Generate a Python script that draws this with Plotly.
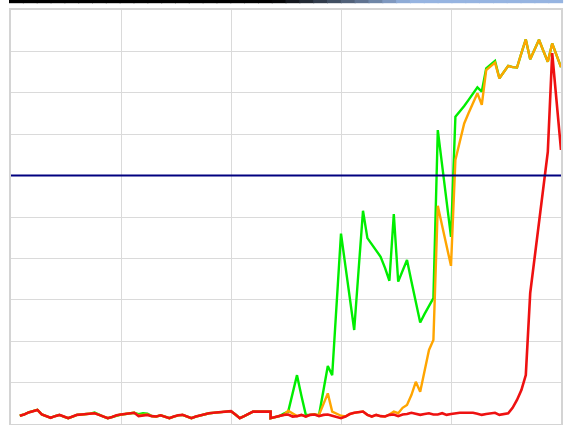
import plotly.graph_objects as go

# x positions (sample index); 59 repeated for the vertical step
idx = list(range(2, 60)) + [59] + list(range(60, 126))

red = [2.0, 2.3, 2.8, 3.1, 3.4, 2.3, 1.9, 1.5, 1.9, 2.2,
       1.8, 1.4, 1.8, 2.2, 2.3, 2.4, 2.5, 2.6, 2.2, 1.8,
       1.4, 1.7, 2.1, 2.3, 2.4, 2.6, 2.7, 1.9, 2.1, 2.2,
       1.9, 1.8, 2.1, 1.8, 1.4, 1.8, 2.1, 2.2, 1.8, 1.4,
       1.8, 2.1, 2.3, 2.6, 2.7, 2.8, 2.9, 3.0, 3.1, 2.3,
       1.4, 1.9, 2.5, 3.0, 3.0, 3.0, 3.0, 3.0, 1.4,
       1.7, 1.9, 2.2, 2.3, 1.8, 1.9, 2.2, 1.8, 2.2, 2.3,
       1.9, 2.2, 2.3, 2.0, 1.7, 1.4, 1.8, 2.4, 2.7, 2.9,
       3.0, 2.2, 1.8, 2.2, 1.9, 1.8, 2.2, 2.3, 1.9, 2.3,
       2.4, 2.7, 2.4, 2.2, 2.4, 2.6, 2.3, 2.3, 2.6, 2.2,
       2.4, 2.6, 2.7, 2.7, 2.7, 2.7, 2.5, 2.2, 2.4, 2.6,
       2.7, 2.2, 2.4, 2.6, 3.9, 5.8, 8.2, 11.8, 31.6, 40.1,
       48.6, 57.2, 65.7, 89.6, 78.0, 66.2]

green = [2.0, 2.3, 2.8, 3.1, 3.4, 2.3, 1.9, 1.5, 1.9, 2.2,
         1.8, 1.4, 1.8, 2.2, 2.3, 2.4, 2.5, 2.8, 2.2, 1.8,
         1.4, 1.7, 2.1, 2.3, 2.4, 2.6, 2.7, 2.4, 2.6, 2.5,
         1.9, 1.8, 2.1, 1.8, 1.4, 1.8, 2.1, 2.2, 1.8, 1.4,
         1.8, 2.1, 2.3, 2.6, 2.7, 2.8, 2.9, 3.0, 3.1, 2.3,
         1.4, 1.9, 2.5, 3.0, 3.0, 3.0, 3.0, 3.0, 1.4,
         1.7, 1.9, 2.5, 3.0, 7.4, 11.8, 6.8, 2.2, 2.2, 2.3,
         2.1, 8.1, 14.0, 11.8, 28.9, 46.0, 38.2, 30.5, 22.7, 37.2,
         51.5, 44.9, 43.5, 42.0, 40.4, 37.7, 34.6, 50.7, 34.4, 37.0,
         39.6, 34.5, 29.5, 24.5, 26.6, 28.5, 30.4, 71.0, 62.6, 54.1,
         45.2, 74.2, 75.4, 76.8, 78.3, 79.8, 81.3, 80.3, 85.9, 86.8,
         87.7, 83.5, 85.0, 86.5, 86.2, 86.1, 89.6, 92.9, 88.1, 90.4,
         92.8, 90.1, 87.5, 91.9, 89.1, 86.2]

orange = [2.0, 2.3, 2.8, 3.1, 3.4, 2.3, 1.9, 1.5, 1.9, 2.2,
          1.8, 1.4, 1.8, 2.2, 2.3, 2.4, 2.5, 2.6, 2.2, 1.8,
          1.4, 1.7, 2.1, 2.3, 2.4, 2.6, 2.7, 2.1, 2.2, 2.3,
          1.9, 1.8, 2.1, 1.8, 1.4, 1.8, 2.1, 2.2, 1.8, 1.4,
          1.8, 2.1, 2.3, 2.6, 2.7, 2.8, 2.9, 3.0, 3.1, 2.3,
          1.4, 1.9, 2.5, 3.0, 3.0, 3.0, 3.0, 3.0, 1.4,
          1.7, 1.9, 2.2, 3.2, 2.6, 1.9, 2.2, 1.8, 2.2, 2.3,
          2.2, 4.8, 7.4, 3.0, 2.4, 2.0, 1.8, 2.4, 2.7, 2.9,
          3.0, 2.2, 1.8, 2.2, 1.9, 1.8, 2.3, 3.0, 2.6, 3.9,
          4.6, 7.0, 10.2, 7.8, 12.6, 17.9, 20.3, 52.7, 47.8, 43.0,
          38.2, 63.8, 68.4, 72.6, 75.1, 77.5, 79.9, 77.1, 85.5, 86.4,
          87.3, 83.5, 85.0, 86.5, 86.2, 86.1, 89.6, 92.9, 88.1, 90.4,
          92.8, 90.1, 87.5, 91.9, 89.1, 86.2]

threshold = 60

fig = go.Figure()
fig.add_trace(go.Scatter(x=idx, y=green, mode="lines",
                         line=dict(color="#00ee00", width=2.4), hoverinfo="skip"))
fig.add_trace(go.Scatter(x=idx, y=orange, mode="lines",
                         line=dict(color="#ffa500", width=2.4), hoverinfo="skip"))
fig.add_trace(go.Scatter(x=idx, y=red, mode="lines",
                         line=dict(color="#ee1111", width=2.6), hoverinfo="skip"))
fig.add_hline(y=threshold, line=dict(color="#000080", width=2))

# top decorative band: black fading to light blue
n = 40
x0p, x1p = (9 - 11) / 552, (564 - 11) / 552
for i in range(n):
    t = i / (n - 1)
    f = 0.0 if t < 0.48 else min(1.0, (t - 0.48) / 0.25)
    r = int(0 + f * 150)
    g = int(0 + f * 180)
    b = int(0 + f * 225)
    xa = x0p + (x1p - x0p) * i / n
    xb = x0p + (x1p - x0p) * (i + 1) / n
    fig.add_shape(type="rect", xref="paper", yref="paper",
                  x0=xa, x1=xb + 0.002, y0=(424 - 3.2) / 414, y1=(424 + 0.5) / 414,
                  fillcolor=f"rgb({r},{g},{b})", line=dict(width=0), layer="above")

fig.update_xaxes(range=[0, 125], dtick=25, tick0=0, showticklabels=False,
                 showgrid=True, gridcolor="#dadada", gridwidth=1,
                 showline=True, linecolor="#d4d4d4", linewidth=2, mirror=True,
                 zeroline=False, ticks="")
fig.update_yaxes(range=[0, 100], dtick=10, tick0=0, showticklabels=False,
                 showgrid=True, gridcolor="#dadada", gridwidth=1,
                 showline=True, linecolor="#d4d4d4", linewidth=2, mirror=True,
                 zeroline=False, ticks="")
fig.update_layout(width=564, height=425, margin=dict(l=11, r=1, t=10, b=1),
                  paper_bgcolor="white", plot_bgcolor="white", showlegend=False)

fig.write_html("out.html", config={"displayModeBar": False, "staticPlot": True},
               post_script="document.body.style.margin='0px';document.body.style.overflow='hidden';")
